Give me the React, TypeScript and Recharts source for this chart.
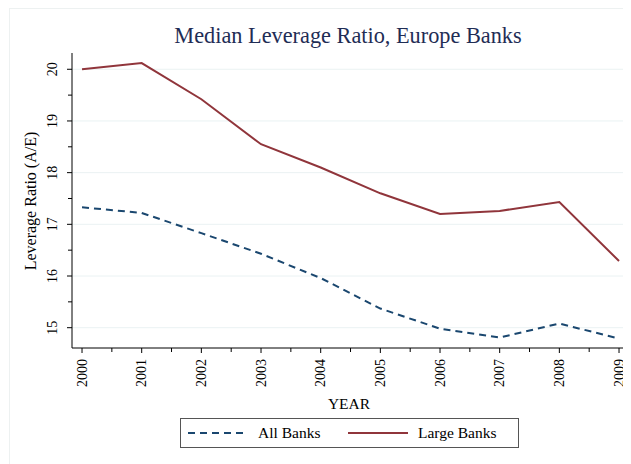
import React from "react";
import { LineChart, Line, XAxis, YAxis, ReferenceLine } from "recharts";

const years = [2000, 2001, 2002, 2003, 2004, 2005, 2006, 2007, 2008, 2009];
const allBanks = [17.33, 17.22, 16.83, 16.43, 15.96, 15.37, 14.98, 14.81, 15.08, 14.79];
const largeBanks = [20.0, 20.12, 19.42, 18.55, 18.1, 17.6, 17.2, 17.26, 17.43, 16.29];
const yTicks = [15, 15.5, 16, 16.5, 17, 17.5, 18, 18.5, 19, 19.5, 20];
const xTicks = [2000, 2000.5, 2001, 2001.5, 2002, 2002.5, 2003, 2003.5, 2004, 2004.5, 2005, 2005.5, 2006, 2006.5, 2007, 2007.5, 2008, 2008.5, 2009];
const gridValues = [15, 16, 17, 18, 19, 20];

const data = years.map((y, i) => ({ year: y, all: allBanks[i], large: largeBanks[i] }));

const FONT = "'Liberation Serif', 'Times New Roman', serif";
const NAVY = "#1A476F";
const MAROON = "#90353B";

const XTick = (props: any) => {
  const { x, payload } = props;
  const v = payload.value;
  const major = Number.isInteger(v);
  const axisY = 340;
  return (
    <g>
      <line x1={x} x2={x} y1={axisY} y2={axisY + (major ? 5 : 4)} stroke="#000" strokeWidth={1} />
      {major && (
        <text
          transform={`translate(${x},${axisY + 11}) rotate(-90)`}
          textAnchor="end"
          dy="0.34em"
          fontFamily={FONT}
          fontSize={14}
          fill="#000"
        >
          {v}
        </text>
      )}
    </g>
  );
};

const YTick = (props: any) => {
  const { y, payload } = props;
  const v = payload.value;
  const major = Number.isInteger(v);
  const axisX = 64;
  return (
    <g>
      <line x1={axisX} x2={axisX - (major ? 5 : 4)} y1={y} y2={y} stroke="#000" strokeWidth={1} />
      {major && (
        <text
          transform={`translate(${axisX - 20},${y}) rotate(-90)`}
          textAnchor="middle"
          dy="0.34em"
          fontFamily={FONT}
          fontSize={14}
          fill="#000"
        >
          {v}
        </text>
      )}
    </g>
  );
};

export default function App() {
  return (
    <div style={{ position: "relative", width: 623, height: 456, fontFamily: FONT, background: "#fff" }}>
      <div
        style={{
          position: "absolute",
          left: 1,
          top: 0,
          width: 630,
          height: 460,
          borderTop: "1px solid #EDF1F1",
          borderLeft: "1px solid #EDF1F1",
          boxSizing: "border-box",
        }}
      />
      <LineChart
        width={623}
        height={456}
        data={data}
        margin={{ top: 45, right: 5, bottom: 0, left: 0 }}
        style={{ position: "absolute", left: 0, top: 0 }}
      >
        <text x={340} y={35} textAnchor="middle" fontFamily={FONT} fontSize={22.3} fill="#1F2D55">
          Median Leverage Ratio, Europe Banks
        </text>
        {gridValues.map((g) => (
          <ReferenceLine key={g} y={g} stroke="#EAF2F3" strokeWidth={1} />
        ))}
        <XAxis
          dataKey="year"
          type="number"
          domain={[1999.832, 2009.117]}
          ticks={xTicks}
          interval={0}
          height={116}
          tick={<XTick />}
          tickLine={false}
          axisLine={{ stroke: "#000", strokeWidth: 1 }}
          allowDataOverflow
        />
        <YAxis
          type="number"
          domain={[14.607, 20.315]}
          ticks={yTicks}
          interval={0}
          width={64}
          tick={<YTick />}
          tickLine={false}
          axisLine={{ stroke: "#000", strokeWidth: 1 }}
          allowDataOverflow
        />
        <text
          transform="translate(28,193) rotate(-90)"
          textAnchor="middle"
          fontFamily={FONT}
          fontSize={16}
          fill="#000"
        >
          Leverage Ratio (A/E)
        </text>
        <text x={341} y={401} textAnchor="middle" fontFamily={FONT} fontSize={15.5} fill="#000">
          YEAR
        </text>
        <Line
          dataKey="all"
          name="All Banks"
          stroke={NAVY}
          strokeWidth={2}
          strokeDasharray="7 5"
          dot={false}
          isAnimationActive={false}
        />
        <Line
          dataKey="large"
          name="Large Banks"
          stroke={MAROON}
          strokeWidth={2}
          dot={false}
          isAnimationActive={false}
        />
      </LineChart>
      <div
        style={{
          position: "absolute",
          left: 172,
          top: 410,
          width: 339,
          height: 30,
          border: "1.5px solid #555",
          boxSizing: "border-box",
          background: "#fff",
        }}
      >
        <svg width={336} height={27} style={{ position: "absolute", left: 0, top: 0 }}>
          <line x1={7} x2={67} y1={14} y2={14} stroke={NAVY} strokeWidth={2} strokeDasharray="7 5" />
          <text x={77} y={19} fontFamily={FONT} fontSize={15.5} fill="#000">All Banks</text>
          <line x1={167} x2={227} y1={14} y2={14} stroke={MAROON} strokeWidth={2} />
          <text x={237} y={19} fontFamily={FONT} fontSize={15.5} fill="#000">Large Banks</text>
        </svg>
      </div>
    </div>
  );
}
